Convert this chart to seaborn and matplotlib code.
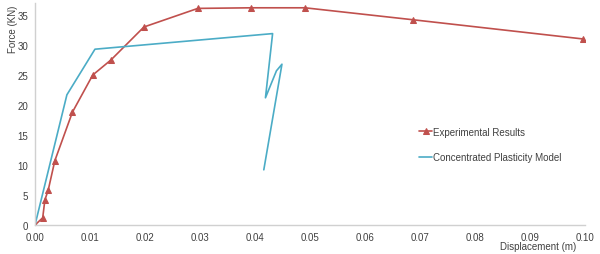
import matplotlib
matplotlib.use("Agg")
import matplotlib.pyplot as plt
import seaborn as sns
import pandas as pd

sns.set_theme(style="white")
plt.rcParams['font.family'] = ['Liberation Sans', 'DejaVu Sans']

exp_disp = [0.0, 0.0014, 0.0018, 0.0024, 0.0036, 0.0068, 0.0105, 0.0138, 0.0198, 0.0296, 0.0393, 0.0491, 0.0688, 0.0997]
exp_force = [0.0, 1.2, 4.2, 5.8, 10.7, 18.8, 25.0, 27.5, 33.0, 36.1, 36.2, 36.2, 34.2, 31.0]

mod_disp = [0.0, 0.0058, 0.0109, 0.0432, 0.0419, 0.0439, 0.0449, 0.0416]
mod_force = [0.0, 21.7, 29.3, 31.9, 21.2, 25.7, 26.8, 9.2]

x_ticks = [0.00, 0.01, 0.02, 0.03, 0.04, 0.05, 0.06, 0.07, 0.08, 0.09, 0.10]
y_ticks = [0, 5, 10, 15, 20, 25, 30, 35]

red = "#C0504D"
blue = "#4BACC6"

df_exp = pd.DataFrame({"d": exp_disp, "f": exp_force})
df_mod = pd.DataFrame({"d": mod_disp, "f": mod_force})

fig = plt.figure(figsize=(6, 2.55), dpi=100)
ax = fig.add_axes([35/600, 29/255, 550/600, 222/255])

sns.lineplot(data=df_exp, x="d", y="f", ax=ax, color=red, marker="^", markersize=4.5,
             markeredgecolor=red, linewidth=1.2, sort=False, estimator=None,
             label="Experimental Results")
sns.lineplot(data=df_mod, x="d", y="f", ax=ax, color=blue, linewidth=1.2, sort=False,
             estimator=None, label="Concentrated Plasticity Model")

ax.set_xlim(0, 0.10)
ax.set_ylim(0, 37)
ax.set_xticks(x_ticks)
ax.set_xticklabels([f"{v:.2f}" for v in x_ticks])
ax.set_yticks(y_ticks)
ax.set_yticklabels([str(v) for v in y_ticks])
ax.tick_params(axis='both', labelsize=7, colors="#404040", length=0, pad=5)
for s in ["top", "right"]:
    ax.spines[s].set_visible(False)
for s in ["left", "bottom"]:
    ax.spines[s].set_color("#D0D0D0")
    ax.spines[s].set_linewidth(1.0)

ax.set_xlabel("Displacement (m)", fontsize=7, color="#404040")
ax.xaxis.set_label_coords((576 - 35) / 550, -0.095)
ax.xaxis.label.set_ha("right")
ax.xaxis.label.set_va("center")
ax.set_ylabel("Force (KN)", fontsize=7, color="#404040")
ax.yaxis.set_label_coords(-0.040, 0.887)
ax.yaxis.label.set_va("center")

leg = ax.legend(loc="center left", bbox_to_anchor=(0.683, 0.363), frameon=False, fontsize=7,
                handlelength=1.3, handletextpad=0.15, labelspacing=1.55,
                labelcolor="#404040")

fig.savefig("out.png", dpi=100)
